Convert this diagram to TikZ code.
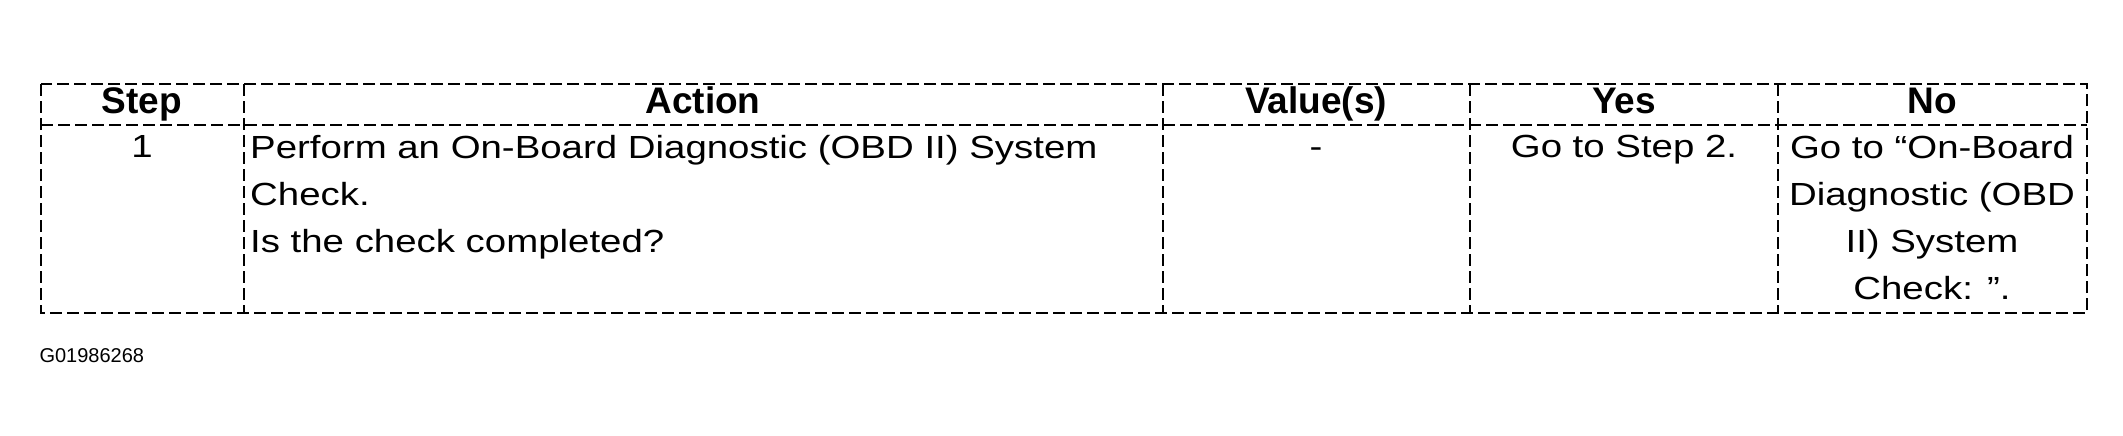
\documentclass[tikz,border=0pt]{standalone}
\usepackage{fontspec}
\setmainfont{Liberation Sans}
\begin{document}
\begin{tikzpicture}[x=1pt,y=-1pt,
  rule/.style={line width=2.5pt,dash pattern=on 12pt off 5pt},
  head/.style={font=\fontsize{37}{44}\selectfont\bfseries,anchor=base},
  cell/.style={font=\addfontfeatures{FakeStretch=1.2}\fontsize{32}{47}\selectfont,anchor=base,align=center}]
\useasboundingbox (0,0) rectangle (2123,436);
% grid
\draw[rule] (41,84) rectangle (2087,313);
\draw[rule] (41,125) -- (2087,125);
\foreach \x in {244,1163,1470,1778} \draw[rule] (\x,84) -- (\x,313);
% header
\node[head] (step) at (142,113) {Step};
\node[head] (action) at (703,113) {Action};
\node[head] (value) at (1316,113) {Value(s)};
\node[head] (yes) at (1624,113) {Yes};
\node[head] (no) at (1932,113) {No};
% row
\node[cell] (n1) at (142,157) {1};
\node[cell,anchor=north west,align=left,inner xsep=2pt] (act) at (248,132) {Perform an On-Board Diagnostic (OBD II) System\\Check.\\Is the check completed?};
\node[cell] (val) at (1316,157) {-};
\node[cell] (go) at (1624,157) {Go to Step 2.};
\node[cell,anchor=north] (nogo) at (1932,132) {Go to “On-Board\\Diagnostic (OBD\\II) System\\Check: ”.};
\node[font=\fontsize{20}{24}\selectfont,anchor=west] (code) at (36,356) {G01986268};
\end{tikzpicture}
\end{document}
